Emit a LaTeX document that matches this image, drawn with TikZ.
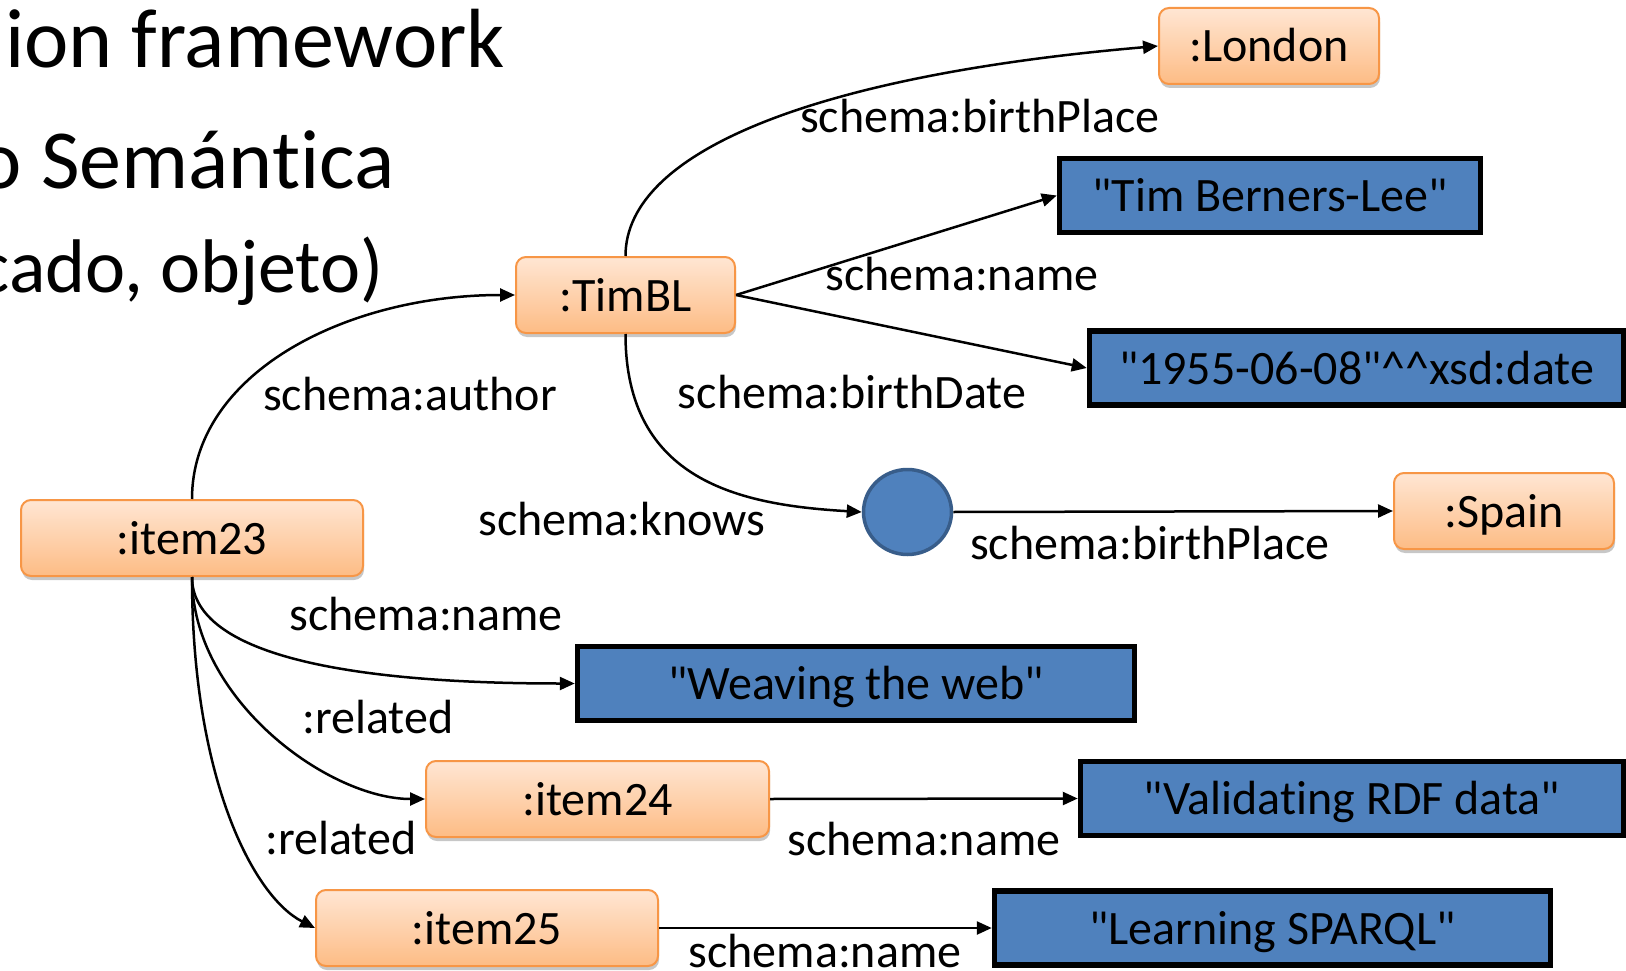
\documentclass[tikz,border=0pt]{standalone}
\usepackage{fontspec}
\setmainfont{Carlito}[Ligatures={TeXOff,NoCommon}]
\usetikzlibrary{arrows.meta,shadows,calc,shapes.geometric}
\definecolor{peachtop}{HTML}{FFE6D3}
\definecolor{peachbot}{HTML}{FDBC85}
\definecolor{orangeline}{HTML}{F79646}
\definecolor{litblue}{HTML}{4F81BD}
\definecolor{darkblue}{HTML}{385D8A}

\begin{document}
\begin{tikzpicture}[x=1pt,y=-1pt,
  resource/.style={rectangle, rounded corners=10pt, draw=orangeline, line width=2pt,
    top color=peachtop, bottom color=peachbot, minimum width=#1, minimum height=76pt,
    inner sep=0pt, text height=32pt, text depth=0pt, font=\fontsize{48}{58}\selectfont,
    drop shadow={shadow xshift=1pt, shadow yshift=-4pt, opacity=0.22, fill=black}},
  literal/.style={rectangle, draw=black, line width=5.5pt, fill=litblue,
    minimum width=#1, minimum height=74pt, inner sep=0pt, text height=32pt, text depth=0pt,
    font=\fontsize{48}{58}\selectfont},
  blanknode/.style={ellipse, draw=darkblue, line width=3.5pt, fill=litblue,
    minimum width=88pt, minimum height=85pt, inner sep=0pt},
  prop/.style={anchor=base, inner sep=0pt, font=\fontsize{48}{58}\selectfont},
  heading/.style={anchor=base east, inner sep=0pt},
  edge/.style={line width=2.5pt, -{Triangle[length=15pt,width=13pt]}}
]
\useasboundingbox (0,0) rectangle (1626,971);
\clip (0,0) rectangle (1626,971);

% slide text behind the graph
\node[heading, font=\fontsize{84}{100}\selectfont] (h1) at (505,68) {ion framework};
\node[heading, font=\fontsize{84}{100}\selectfont] (h2) at (395,189) {o Semántica};
\node[heading, font=\fontsize{76}{92}\selectfont] (h3) at (384,292) {cado, objeto)};

% resources
\node[resource=220pt] (london) at (1269,46) {:London};
\node[resource=219pt] (timbl) at (625.5,295) {:TimBL};
\node[resource=220pt] (spain) at (1504,511) {:Spain};
\node[resource=342pt] (item23) at (192,538) {:item23};
\node[resource=343pt] (item24) at (597.5,799) {:item24};
\node[resource=342pt] (item25) at (487,928) {:item25};

% literals
\node[literal=421pt] (tbl) at (1270,195.5) {"Tim Berners-Lee"};
\node[literal=534pt] (date) at (1356.5,368) {"1955-06-08"\^{}\^{}xsd:date};
\node[literal=557pt] (weaving) at (856,683.5) {"Weaving the web"};
\node[literal=543pt] (validating) at (1352,798.5) {"Validating RDF data"};
\node[literal=556pt] (learning) at (1272.5,928) {"Learning SPARQL"};

% blank node
\node[blanknode] (bnode) at (907.5,512) {};

% properties
\draw[edge] (item23.north) .. controls ($(item23.north)+(0,-125)$) and ($(timbl.west)+(-170,0)$) .. (timbl.west);
\draw[edge] (timbl.north) .. controls ($(timbl.north)+(0,-106)$) and ($(london.west)+(-338,29)$) .. (london.west);
\draw[edge] (timbl.east) -- (tbl.west);
\draw[edge] (timbl.east) -- (date.west);
\draw[edge] (timbl.south) .. controls ($(timbl.south)+(0,147)$) and ($(bnode.west)+(-122,-7)$) .. (bnode.west);
\draw[edge] (bnode.east) -- (spain.west);
\draw[edge] (item23.south) .. controls ($(item23.south)+(0,73)$) and ($(weaving.west)+(-245,0)$) .. (weaving.west);
\draw[edge] (item23.south) .. controls ($(item23.south)+(0,123)$) and ($(item24.west)+(-96,0)$) .. (item24.west);
\draw[edge] (item23.south) .. controls ($(item23.south)+(0,203)$) and ($(item25.west)+(-61,-31)$) .. (item25.west);
\draw[edge] (item24.east) -- (validating.west);
\draw[edge] (item25.east) -- (learning.west);

% property labels
\node[prop] (lbp1) at (980,133) {schema:birthPlace};
\node[prop] (lname1) at (962,290) {schema:name};
\node[prop] (lbdate) at (852,408) {schema:birthDate};
\node[prop] (lauthor) at (410,410) {schema:author};
\node[prop] (lknows) at (622,535) {schema:knows};
\node[prop] (lbp2) at (1150,559) {schema:birthPlace};
\node[prop] (lname2) at (426,630) {schema:name};
\node[prop] (lrel1) at (378,733) {:related};
\node[prop] (lrel2) at (341,854) {:related};
\node[prop] (lname3) at (924,855) {schema:name};
\node[prop] (lname4) at (825,967) {schema:name};
\end{tikzpicture}
\end{document}
